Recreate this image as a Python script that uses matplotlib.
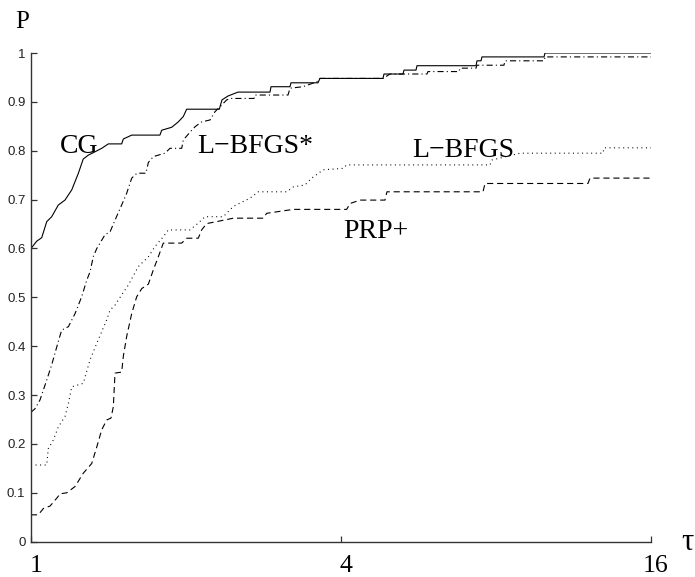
import matplotlib
matplotlib.use("Agg")
import matplotlib.pyplot as plt
from matplotlib.transforms import ScaledTranslation

# performance profile data (tau, P)
cg_tau = [1.000, 1.026, 1.049, 1.073, 1.097, 1.130, 1.164, 1.200, 1.236, 1.263,
          1.292, 1.321, 1.372, 1.413, 1.500, 1.511, 1.569, 1.780, 1.794, 1.876,
          1.932, 1.976, 2.006, 2.321, 2.349, 2.413, 2.524, 2.912, 2.925, 3.184,
          3.198, 3.609, 3.641, 4.826, 4.848, 5.278, 5.302, 5.594, 5.619, 7.316,
          7.348, 7.481, 7.514, 9.916, 9.960, 16.0]
cg_p = [0.600, 0.615, 0.622, 0.655, 0.665, 0.689, 0.699, 0.720, 0.754, 0.783,
        0.791, 0.796, 0.805, 0.814, 0.814, 0.824, 0.832, 0.832, 0.842, 0.848,
        0.859, 0.870, 0.885, 0.885, 0.904, 0.912, 0.920, 0.920, 0.931, 0.931,
        0.939, 0.939, 0.948, 0.948, 0.957, 0.957, 0.965, 0.965, 0.974, 0.974,
        0.984, 0.984, 0.992, 0.992, 1.000, 1.000]

lbfgs_star_tau = [1.000, 1.018, 1.041, 1.073, 1.097, 1.130, 1.147, 1.182, 1.218, 1.254,
                  1.283, 1.302, 1.321, 1.342, 1.392, 1.424, 1.456, 1.500, 1.534, 1.569,
                  1.606, 1.672, 1.690, 1.728, 1.821, 1.862, 1.962, 1.976, 2.052, 2.082,
                  2.145, 2.227, 2.277, 2.328, 2.399, 2.435, 2.711, 2.723, 3.156, 3.185,
                  3.375, 3.588, 3.641, 4.826, 4.980, 5.876, 5.902, 6.781, 6.811, 7.316,
                  7.348, 8.290, 8.327, 9.916, 9.960, 16.0]
lbfgs_star_p = [0.265, 0.272, 0.290, 0.331, 0.362, 0.410, 0.433, 0.440, 0.467, 0.501,
                0.535, 0.552, 0.583, 0.600, 0.628, 0.634, 0.658, 0.689, 0.713, 0.744,
                0.754, 0.754, 0.776, 0.788, 0.795, 0.805, 0.805, 0.822, 0.842, 0.849,
                0.859, 0.863, 0.880, 0.890, 0.904, 0.907, 0.907, 0.914, 0.914, 0.928,
                0.931, 0.941, 0.948, 0.948, 0.957, 0.957, 0.962, 0.962, 0.969, 0.969,
                0.975, 0.975, 0.984, 0.984, 0.992, 0.992]

lbfgs_tau = [1.000, 1.073, 1.080, 1.105, 1.130, 1.164, 1.182, 1.200, 1.263, 1.302,
             1.342, 1.403, 1.424, 1.456, 1.500, 1.545, 1.616, 1.690, 1.741, 1.807,
             1.848, 2.036, 2.113, 2.177, 2.363, 2.471, 2.663, 2.764, 3.138, 3.232,
             3.405, 3.509, 3.695, 4.041, 4.103, 7.789, 7.858, 8.906, 12.91, 12.97,
             16.0]
lbfgs_p = [0.157, 0.157, 0.190, 0.208, 0.235, 0.256, 0.283, 0.317, 0.324, 0.372,
           0.406, 0.454, 0.474, 0.484, 0.505, 0.525, 0.563, 0.583, 0.604, 0.624,
           0.638, 0.638, 0.652, 0.665, 0.665, 0.686, 0.703, 0.716, 0.716, 0.726,
           0.730, 0.744, 0.761, 0.764, 0.771, 0.771, 0.781, 0.795, 0.795, 0.806,
           0.806]

prp_tau = [1.000, 1.033, 1.057, 1.089, 1.122, 1.139, 1.173, 1.218, 1.263, 1.312,
           1.342, 1.372, 1.403, 1.430, 1.445, 1.456, 1.500, 1.511, 1.534, 1.569,
           1.604, 1.641, 1.690, 1.728, 1.767, 1.807, 1.962, 2.006, 2.113, 2.145,
           2.194, 2.295, 2.471, 2.826, 2.869, 3.232, 4.103, 4.164, 4.355, 4.869,
           4.913, 7.548, 7.616, 12.07, 12.18, 16.0]
prp_p = [0.055, 0.055, 0.068, 0.073, 0.089, 0.098, 0.100, 0.113, 0.140, 0.160,
         0.194, 0.229, 0.249, 0.253, 0.276, 0.345, 0.347, 0.379, 0.420, 0.467,
         0.501, 0.518, 0.527, 0.556, 0.583, 0.611, 0.611, 0.621, 0.621, 0.638,
         0.651, 0.655, 0.662, 0.662, 0.672, 0.680, 0.680, 0.692, 0.699, 0.699,
         0.716, 0.716, 0.733, 0.733, 0.744, 0.744]

yticks = [0, 0.1, 0.2, 0.3, 0.4, 0.5, 0.6, 0.7, 0.8, 0.9, 1]
ytick_labels = ["0", "0.1", "0.2", "0.3", "0.4", "0.5", "0.6", "0.7", "0.8", "0.9", "1"]
xticks = [1, 4, 16]
xtick_labels = ["1", "4", "16"]

serif = "Liberation Serif"
sans = "Liberation Sans"

fig = plt.figure(figsize=(6.95, 5.77), dpi=100)
ax = fig.add_axes([31 / 695, 1 - 541.7 / 577, 620 / 695, (541.7 - 53) / 577])

lw = 0.8
ax.plot(cg_tau, cg_p, color="black", lw=lw, ls="-")
ax.plot(lbfgs_star_tau, lbfgs_star_p, color="black", lw=lw, ls=(0, (5.5, 2.8, 1, 2.8)))
ax.plot(lbfgs_tau, lbfgs_p, color="black", lw=lw, ls=(0, (0.9, 3.2)))
ax.plot(prp_tau, prp_p, color="black", lw=lw, ls=(0, (5.5, 3.5)))

ax.set_xscale("log", base=2)
ax.set_xlim(1, 16)
ax.set_ylim(0, 1)
ax.set_xticks(xticks)
ax.set_xticklabels([])
ax.minorticks_off()
ax.set_yticks(yticks)
ax.set_yticklabels(ytick_labels, fontfamily=sans, fontsize=9.5, color="#222222")

# x tick labels drawn by hand: they sit a little right of their ticks in the original
shift = ScaledTranslation(5 / 100, -13 / 100, fig.dpi_scale_trans)
for t, lab in zip(xticks, xtick_labels):
    ax.text(t, 0, lab, transform=ax.get_xaxis_transform() + shift,
            ha="center", va="top", fontfamily=serif, fontsize=18.5)

for side in ["top", "right"]:
    ax.spines[side].set_visible(False)
for side in ["left", "bottom"]:
    ax.spines[side].set_linewidth(1.0)
    ax.spines[side].set_color("#333333")
ax.tick_params(direction="in", length=4, width=0.9, color="#333333")
ax.tick_params(axis="y", pad=4)

# curve labels
ax.text(1.139, 0.795, "CG", fontfamily=serif, fontsize=20)
ax.text(2.10, 0.795, "L\u2212BFGS*", fontfamily=serif, fontsize=20)
ax.text(5.50, 0.787, "L\u2212BFGS", fontfamily=serif, fontsize=20)
ax.text(4.04, 0.621, "PRP+", fontfamily=serif, fontsize=20)

fig.text(15 / 695, 1 - 28 / 577, "P", fontfamily=serif, fontsize=18, va="baseline")
fig.text(681 / 695, 1 - 550 / 577, "\u03c4", fontfamily=serif, fontsize=22, va="baseline")

fig.savefig("out.png", dpi=100)
